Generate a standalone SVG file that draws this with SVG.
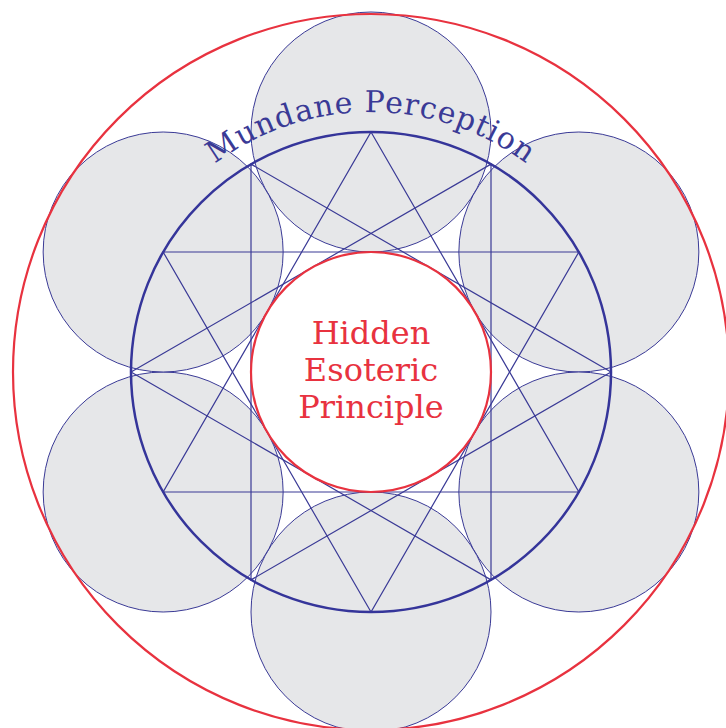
<svg xmlns="http://www.w3.org/2000/svg" xmlns:xlink="http://www.w3.org/1999/xlink" width="726" height="728" viewBox="0 0 726 728">
  <style>
    .petal { fill: #e6e7e9; stroke: #3a3a96; stroke-width: 1; }
    .line { fill: none; stroke: #3a3a96; stroke-width: 1.2; }
    .blue { fill: none; stroke: #35359a; stroke-width: 2.5; }
    .red { stroke: #e8323f; stroke-width: 2.2; }
    .outer { fill: none; }
    .inner { fill: #ffffff; }
    .arc-label { font-family: "DejaVu Serif", serif; font-size: 30px; letter-spacing: 1px; fill: #3a3a96; }
    .center-label { font-family: "DejaVu Serif", serif; font-size: 32px; fill: #e8323f; text-anchor: middle; }
  </style>
  <defs>
    <path id="textArc" d="M 111,372 A 260,260 0 0 1 631,372"/>
  </defs>
  <rect x="0" y="0" width="726" height="728" fill="#ffffff"/>
  <g id="petals">
    <circle id="petal-top" class="petal" cx="371" cy="132" r="120"/>
    <circle id="petal-upper-right" class="petal" cx="578.85" cy="252" r="120"/>
    <circle id="petal-lower-right" class="petal" cx="578.85" cy="492" r="120"/>
    <circle id="petal-bottom" class="petal" cx="371" cy="612" r="120"/>
    <circle id="petal-lower-left" class="petal" cx="163.15" cy="492" r="120"/>
    <circle id="petal-upper-left" class="petal" cx="163.15" cy="252" r="120"/>
  </g>
  <g id="outer-circle">
    <circle class="red outer" cx="371" cy="372" r="358"/>
  </g>
  <g id="connectors">
    <polygon class="line" points="371,132 578.85,492 163.15,492"/>
    <polygon class="line" points="371,612 163.15,252 578.85,252"/>
    <polygon class="line" points="611,372 251,164.15 251,579.85"/>
    <polygon class="line" points="131,372 491,164.15 491,579.85"/>
  </g>
  <g id="mundane-perception">
    <circle class="blue" cx="371" cy="372" r="240"/>
    <text class="arc-label"><textPath xlink:href="#textArc" href="#textArc" startOffset="50%" text-anchor="middle">Mundane Perception</textPath></text>
  </g>
  <g id="hidden-esoteric-principle">
    <circle class="red inner" cx="371" cy="372" r="120"/>
    <text class="center-label" x="371" y="344">Hidden</text>
    <text class="center-label" x="371" y="381">Esoteric</text>
    <text class="center-label" x="371" y="418">Principle</text>
  </g>
</svg>
